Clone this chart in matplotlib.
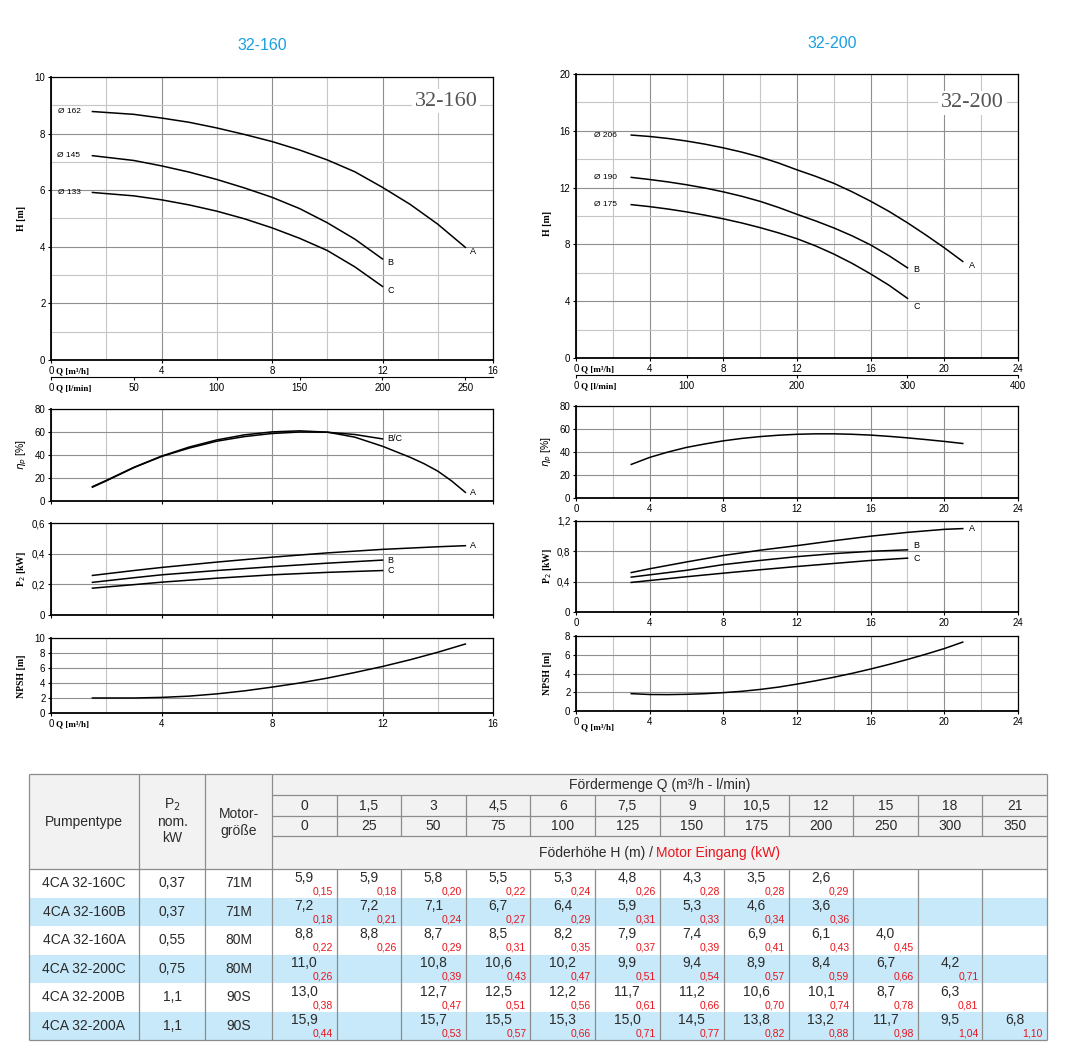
import matplotlib
matplotlib.use('Agg')
import matplotlib.pyplot as plt
from matplotlib.offsetbox import TextArea, HPacker, AnnotationBbox
from matplotlib.patches import Rectangle

plt.rcParams['font.family'] = ['Liberation Sans', 'DejaVu Sans']

# ---------------- table data ----------------
q_m3h = [0, 1.5, 3, 4.5, 6, 7.5, 9, 10.5, 12, 15, 18, 21]
q_lmin = [0, 25, 50, 75, 100, 125, 150, 175, 200, 250, 300, 350]

pump_types = ['4CA 32-160C', '4CA 32-160B', '4CA 32-160A',
              '4CA 32-200C', '4CA 32-200B', '4CA 32-200A']
p2_nom = ['0,37', '0,37', '0,55', '0,75', '1,1', '1,1']
motor_size = ['71M', '71M', '80M', '80M', '90S', '90S']

H_160C = [5.9, 5.9, 5.8, 5.5, 5.3, 4.8, 4.3, 3.5, 2.6, None, None, None]
P_160C = [0.15, 0.18, 0.20, 0.22, 0.24, 0.26, 0.28, 0.28, 0.29, None, None, None]
H_160B = [7.2, 7.2, 7.1, 6.7, 6.4, 5.9, 5.3, 4.6, 3.6, None, None, None]
P_160B = [0.18, 0.21, 0.24, 0.27, 0.29, 0.31, 0.33, 0.34, 0.36, None, None, None]
H_160A = [8.8, 8.8, 8.7, 8.5, 8.2, 7.9, 7.4, 6.9, 6.1, 4.0, None, None]
P_160A = [0.22, 0.26, 0.29, 0.31, 0.35, 0.37, 0.39, 0.41, 0.43, 0.45, None, None]
H_200C = [11.0, None, 10.8, 10.6, 10.2, 9.9, 9.4, 8.9, 8.4, 6.7, 4.2, None]
P_200C = [0.26, None, 0.39, 0.43, 0.47, 0.51, 0.54, 0.57, 0.59, 0.66, 0.71, None]
H_200B = [13.0, None, 12.7, 12.5, 12.2, 11.7, 11.2, 10.6, 10.1, 8.7, 6.3, None]
P_200B = [0.38, None, 0.47, 0.51, 0.56, 0.61, 0.66, 0.70, 0.74, 0.78, 0.81, None]
H_200A = [15.9, None, 15.7, 15.5, 15.3, 15.0, 14.5, 13.8, 13.2, 11.7, 9.5, 6.8]
P_200A = [0.44, None, 0.53, 0.57, 0.66, 0.71, 0.77, 0.82, 0.88, 0.98, 1.04, 1.10]

heads = [H_160C, H_160B, H_160A, H_200C, H_200B, H_200A]
powers = [P_160C, P_160B, P_160A, P_200C, P_200B, P_200A]

# ---------------- curve data ----------------
# 32-160
cq_160A = [1.5, 3, 4, 5, 6, 7, 8, 9, 10, 11, 12, 13, 14, 15]
ch_160A = [8.78, 8.68, 8.55, 8.40, 8.20, 7.97, 7.72, 7.42, 7.07, 6.65, 6.10, 5.50, 4.80, 3.98]
cq_160B = [1.5, 3, 4, 5, 6, 7, 8, 9, 10, 11, 12]
ch_160B = [7.22, 7.05, 6.86, 6.64, 6.38, 6.08, 5.75, 5.35, 4.85, 4.27, 3.57]
cq_160C = [1.5, 3, 4, 5, 6, 7, 8, 9, 10, 11, 12]
ch_160C = [5.92, 5.80, 5.66, 5.48, 5.26, 4.99, 4.67, 4.30, 3.87, 3.29, 2.60]

cp_160A = [0.258, 0.29, 0.31, 0.345, 0.377, 0.405, 0.428, 0.445, 0.452]
pq_160A = [1.5, 3, 4, 6, 8, 10, 12, 14, 15]
pq_160BC = [1.5, 3, 4, 6, 8, 10, 12]
cp_160B = [0.213, 0.243, 0.262, 0.29, 0.315, 0.338, 0.358]
cp_160C = [0.175, 0.198, 0.214, 0.24, 0.262, 0.278, 0.29]

eq_160A = [1.5, 2, 3, 4, 5, 6, 7, 8, 9, 10, 11, 12, 13, 13.5, 14, 14.5, 15]
eta_160A = [12.5, 17.9, 29.3, 39, 46.9, 53.1, 57.5, 60.1, 61, 59.9, 55.5, 47.6, 38, 32.5, 26, 17.5, 7.5]
eq_160BC = [1.5, 2, 3, 4, 5, 6, 7, 8, 9, 10, 11, 12]
eta_160BC = [12, 17.5, 29, 38.7, 46, 52, 56, 58.7, 60, 59.8, 57.8, 54]

nq_160 = [1.5, 3, 4, 5, 6, 7, 8, 9, 10, 11, 12, 13, 14, 15]
npsh_160 = [2.0, 2.0, 2.08, 2.25, 2.55, 2.95, 3.45, 4.0, 4.65, 5.4, 6.2, 7.1, 8.1, 9.2]

# 32-200
cq_200A = [3, 4, 5, 6, 7, 8, 9, 10, 11, 12, 13, 14, 15, 16, 17, 18, 19, 20, 21]
ch_200A = [15.7, 15.6, 15.46, 15.28, 15.06, 14.8, 14.5, 14.15, 13.73, 13.25,
           12.8, 12.3, 11.7, 11.04, 10.32, 9.52, 8.66, 7.76, 6.8]
cq_200BC = [3, 4, 5, 6, 7, 8, 9, 10, 11, 12, 13, 14, 15, 16, 17, 18]
ch_200B = [12.72, 12.57, 12.40, 12.20, 11.97, 11.70, 11.39, 11.03, 10.60, 10.12,
           9.66, 9.16, 8.60, 7.96, 7.20, 6.35]
ch_200C = [10.8, 10.66, 10.49, 10.29, 10.06, 9.8, 9.51, 9.18, 8.81, 8.4,
           7.9, 7.32, 6.66, 5.92, 5.12, 4.2]

pq_200A = [3, 4, 6, 8, 10, 12, 14, 16, 18, 20, 21]
cp_200A = [0.52, 0.57, 0.66, 0.745, 0.815, 0.875, 0.94, 1.0, 1.05, 1.09, 1.10]
pq_200BC = [3, 4, 6, 8, 10, 12, 14, 16, 18]
cp_200B = [0.46, 0.49, 0.55, 0.625, 0.68, 0.73, 0.77, 0.80, 0.82]
cp_200C = [0.39, 0.415, 0.465, 0.512, 0.557, 0.60, 0.64, 0.68, 0.71]

eq_200 = [3, 4, 5, 6, 7, 8, 9, 10, 11, 12, 13, 14, 15, 16, 17, 18, 19, 20, 21]
eta_200 = [29.2, 35.3, 40, 44, 47, 49.7, 51.8, 53.4, 54.6, 55.4, 55.8, 55.8, 55.4,
           54.7, 53.6, 52.3, 50.8, 49.2, 47.4]

nq_200 = [3, 4, 5, 6, 7, 8, 9, 10, 11, 12, 13, 14, 15, 16, 17, 18, 19, 20, 21]
npsh_200 = [1.85, 1.76, 1.75, 1.78, 1.85, 1.96, 2.1, 2.3, 2.55, 2.87, 3.22, 3.6,
            4.02, 4.48, 4.97, 5.5, 6.06, 6.66, 7.35]

dia_160 = ['Ø 162', 'Ø 145', 'Ø 133']
dia_200 = ['Ø 206', 'Ø 190', 'Ø 175']

# ---------------- figure ----------------
W, H = 1086, 1060
fig = plt.figure(figsize=(W / 100, H / 100), dpi=100)


def add_ax(x0, y0, x1, y1):
    return fig.add_axes([x0 / W, 1 - y1 / H, (x1 - x0) / W, (y1 - y0) / H])


def ftext(x, y, s, **kw):
    return fig.text(x / W, 1 - y / H, s, **kw)


def fmt1(v):
    return ('%.1f' % v).replace('.', ',')


def fmt2(v):
    return ('%.2f' % v).replace('.', ',')


def fmtg(v):
    return ('%g' % v).replace('.', ',')


def style(ax, xmax, xmajor, xminor, ymax, ymajor, yminor, ylabels, show_x):
    ax.set_xlim(0, xmax)
    ax.set_ylim(0, ymax)
    ax.set_xticks(xmajor)
    ax.set_xticks(xminor, minor=True)
    ax.set_yticks(ymajor)
    ax.set_yticks(yminor, minor=True)
    ax.set_yticklabels(ylabels)
    if show_x:
        ax.set_xticklabels([fmtg(v) for v in xmajor])
    else:
        ax.set_xticklabels([])
    ax.grid(which='major', color='#8f8f8f', lw=0.8)
    ax.grid(which='minor', color='#c6c6c6', lw=0.8)
    ax.tick_params(which='major', direction='out', length=2.5, width=0.8,
                   pad=1.5, labelsize=7, colors='black')
    ax.tick_params(which='minor', length=0)
    for s in ['left', 'bottom']:
        ax.spines[s].set_linewidth(1.3)
    for s in ['top', 'right']:
        ax.spines[s].set_linewidth(0.9)


def qlabel(ax, text, dy):
    ax.annotate(text, xy=(0, 0), xycoords='axes fraction', xytext=(5, dy),
                textcoords='offset pixels', ha='left', va='center',
                fontfamily='Liberation Serif', fontweight='bold', fontsize=6.5)


def end_label(ax, x, y, s, dx=5, dy=-4):
    ax.annotate(s, xy=(x, y), xytext=(dx, dy), textcoords='offset pixels',
                ha='left', va='center', fontsize=6.5)


def start_label(ax, x, y, s, dx):
    ax.annotate(s, xy=(x, y), xytext=(dx, 0), textcoords='offset pixels',
                ha='right', va='center', fontsize=6)


LW = 1.1
serif_lbl = dict(fontfamily='Liberation Serif', fontweight='bold', fontsize=7,
                 rotation=90, ha='center', va='center')

# ================= 32-160 =================
ftext(262, 45, '32-160', color='#1a9fe3', fontsize=11.5, ha='center', va='center')

ax = add_ax(51, 77, 493, 360)
style(ax, 16, [0, 4, 8, 12, 16], [2, 6, 10, 14], 10, [0, 2, 4, 6, 8, 10],
      [1, 3, 5, 7, 9], ['0', '2', '4', '6', '8', '10'], True)
for xs, ys, lab, end in zip([cq_160A, cq_160B, cq_160C], [ch_160A, ch_160B, ch_160C],
                            dia_160, ['A', 'B', 'C']):
    ax.plot(xs, ys, color='black', lw=LW)
    start_label(ax, xs[0], ys[0], lab, -12)
    end_label(ax, xs[-1], ys[-1], end)
ax.text(0.894, 0.915, '32-160', transform=ax.transAxes, fontfamily='Liberation Serif',
        fontsize=16, color='#555555', ha='center', va='center',
        bbox=dict(fc='white', ec='none', pad=2))
qlabel(ax, 'Q [m³/h]', -11)
sec = ax.secondary_xaxis(-17 / 283, functions=(lambda q: q * 1000 / 60, lambda l: l * 60 / 1000))
sec.set_xticks([0, 50, 100, 150, 200, 250])
sec.set_xticklabels(['0', '50', '100', '150', '200', '250'])
sec.tick_params(direction='out', length=2.5, width=0.8, pad=1.5, labelsize=7)
sec.spines['bottom'].set_linewidth(0.8)
qlabel(ax, 'Q [l/min]', -28)
ftext(22, 218, 'H [m]', **serif_lbl)

ax = add_ax(51, 409, 493, 501)
style(ax, 16, [0, 4, 8, 12, 16], [2, 6, 10, 14], 80, [0, 20, 40, 60, 80], [],
      ['0', '20', '40', '60', '80'], False)
ax.plot(eq_160A, eta_160A, color='black', lw=LW)
ax.plot(eq_160BC, eta_160BC, color='black', lw=LW)
end_label(ax, eq_160BC[-1], eta_160BC[-1], 'B/C', 5, 0)
end_label(ax, eq_160A[-1], eta_160A[-1], 'A', 5, 0)
ftext(22, 455, r'$\eta_p$ [%]', fontsize=7.5, rotation=90, ha='center', va='center')

ax = add_ax(51, 523, 493, 615)
style(ax, 16, [0, 4, 8, 12, 16], [2, 6, 10, 14], 0.6, [0, 0.2, 0.4, 0.6], [],
      ['0', '0,2', '0,4', '0,6'], False)
for xs, ys, end in zip([pq_160A, pq_160BC, pq_160BC], [cp_160A, cp_160B, cp_160C], ['A', 'B', 'C']):
    ax.plot(xs, ys, color='black', lw=LW)
    end_label(ax, xs[-1], ys[-1], end, 5, 0)
ftext(22, 569, 'P$_2$ [kW]', **serif_lbl)

ax = add_ax(51, 638, 493, 713)
style(ax, 16, [0, 4, 8, 12, 16], [2, 6, 10, 14], 10, [0, 2, 4, 6, 8, 10], [],
      ['0', '2', '4', '6', '8', '10'], True)
ax.plot(nq_160, npsh_160, color='black', lw=LW)
qlabel(ax, 'Q [m³/h]', -11)
ftext(22, 676, 'NPSH [m]', **serif_lbl)

# ================= 32-200 =================
ftext(832, 44, '32-200', color='#1a9fe3', fontsize=11.5, ha='center', va='center')

ax = add_ax(576, 74, 1018, 358)
style(ax, 24, [0, 4, 8, 12, 16, 20, 24], [2, 6, 10, 14, 18, 22], 20,
      [0, 4, 8, 12, 16, 20], [2, 6, 10, 14, 18], ['0', '4', '8', '12', '16', '20'], True)
for xs, ys, lab, end, dy in zip([cq_200A, cq_200BC, cq_200BC], [ch_200A, ch_200B, ch_200C],
                                dia_200, ['A', 'B', 'C'], [-4, -2, -8]):
    ax.plot(xs, ys, color='black', lw=LW)
    start_label(ax, xs[0], ys[0], lab, -14)
    end_label(ax, xs[-1], ys[-1], end, 6, dy)
ax.text(0.897, 0.898, '32-200', transform=ax.transAxes, fontfamily='Liberation Serif',
        fontsize=16, color='#555555', ha='center', va='center',
        bbox=dict(fc='white', ec='none', pad=2))
qlabel(ax, 'Q [m³/h]', -11)
sec = ax.secondary_xaxis(-17 / 284, functions=(lambda q: q * 1000 / 60, lambda l: l * 60 / 1000))
sec.set_xticks([0, 100, 200, 300, 400])
sec.set_xticklabels(['0', '100', '200', '300', '400'])
sec.tick_params(direction='out', length=2.5, width=0.8, pad=1.5, labelsize=7)
sec.spines['bottom'].set_linewidth(0.8)
qlabel(ax, 'Q [l/min]', -28)
ftext(547, 223, 'H [m]', **serif_lbl)

ax = add_ax(576, 406, 1018, 498)
style(ax, 24, [0, 4, 8, 12, 16, 20, 24], [2, 6, 10, 14, 18, 22], 80,
      [0, 20, 40, 60, 80], [], ['0', '20', '40', '60', '80'], True)
ax.plot(eq_200, eta_200, color='black', lw=LW)
ftext(547, 452, r'$\eta_p$ [%]', fontsize=7.5, rotation=90, ha='center', va='center')

ax = add_ax(576, 521, 1018, 612)
style(ax, 24, [0, 4, 8, 12, 16, 20, 24], [2, 6, 10, 14, 18, 22], 1.2,
      [0, 0.4, 0.8, 1.2], [], ['0', '0,4', '0,8', '1,2'], True)
for xs, ys, end, dy in zip([pq_200A, pq_200BC, pq_200BC], [cp_200A, cp_200B, cp_200C],
                           ['A', 'B', 'C'], [0, 4, 0]):
    ax.plot(xs, ys, color='black', lw=LW)
    end_label(ax, xs[-1], ys[-1], end, 6, dy)
ftext(547, 566, 'P$_2$ [kW]', **serif_lbl)

ax = add_ax(576, 636, 1018, 711)
style(ax, 24, [0, 4, 8, 12, 16, 20, 24], [2, 6, 10, 14, 18, 22], 8,
      [0, 2, 4, 6, 8], [], ['0', '2', '4', '6', '8'], True)
ax.plot(nq_200, npsh_200, color='black', lw=LW)
qlabel(ax, 'Q [m³/h]', -16)
ftext(547, 673, 'NPSH [m]', **serif_lbl)

# ================= table =================
tax = fig.add_axes([0, 0, 1, 1], zorder=-1)
tax.set_xlim(0, W)
tax.set_ylim(H, 0)
tax.axis('off')

LINE = '#8c8c8c'
TXT = '#2b2b2b'
RED = '#e8141c'
BLUE = '#c8e9fa'
GREY = '#f2f2f3'

x_left, x_c1, x_c2, x_q0, x_right = 29, 139, 205, 272, 1047
y_top, y_r1, y_r2, y_r3, y_hdr = 774, 795, 816, 836, 869
y_bot = 1040
n_q = len(q_m3h)
qw = (x_right - x_q0) / n_q
rh = (y_bot - y_hdr) / len(pump_types)

tax.add_patch(Rectangle((x_left, y_top), x_right - x_left, y_hdr - y_top, fc=GREY, ec='none'))
for r in range(len(pump_types)):
    tax.add_patch(Rectangle((x_left, y_hdr + r * rh), x_right - x_left, rh,
                            fc=(BLUE if r % 2 else 'white'), ec='none'))


def hline(y, x0, x1):
    tax.plot([x0, x1], [y, y], color=LINE, lw=0.9, solid_capstyle='butt')


def vline(x, y0, y1):
    tax.plot([x, x], [y0, y1], color=LINE, lw=0.9, solid_capstyle='butt')


hline(y_top, x_left, x_right)
hline(y_bot, x_left, x_right)
hline(y_hdr, x_left, x_right)
for y in (y_r1, y_r2, y_r3):
    hline(y, x_q0, x_right)
for x in (x_left, x_c1, x_c2, x_q0, x_right):
    vline(x, y_top, y_bot)
for i in range(1, n_q):
    x = x_q0 + i * qw
    vline(x, y_r1, y_r3)
    vline(x, y_hdr, y_bot)

tax.text((x_left + x_c1) / 2, 822, 'Pumpentype', ha='center', va='center', fontsize=10, color=TXT)
tax.text((x_c1 + x_c2) / 2, 805, 'P$_2$', ha='center', va='center', fontsize=10, color=TXT)
tax.text((x_c1 + x_c2) / 2, 822, 'nom.', ha='center', va='center', fontsize=10, color=TXT)
tax.text((x_c1 + x_c2) / 2, 838, 'kW', ha='center', va='center', fontsize=10, color=TXT)
tax.text((x_c2 + x_q0) / 2, 814, 'Motor-', ha='center', va='center', fontsize=10, color=TXT)
tax.text((x_c2 + x_q0) / 2, 831, 'größe', ha='center', va='center', fontsize=10, color=TXT)
tax.text((x_q0 + x_right) / 2, (y_top + y_r1) / 2, 'Fördermenge Q (m³/h - l/min)',
         ha='center', va='center', fontsize=10, color=TXT)
for i in range(n_q):
    cx = x_q0 + (i + 0.5) * qw
    tax.text(cx, (y_r1 + y_r2) / 2 + 0.5, fmtg(q_m3h[i]), ha='center', va='center', fontsize=10, color=TXT)
    tax.text(cx, (y_r2 + y_r3) / 2 + 0.5, fmtg(q_lmin[i]), ha='center', va='center', fontsize=10, color=TXT)

pack = HPacker(children=[TextArea('Föderhöhe H (m) / ', textprops=dict(fontsize=10, color=TXT)),
                         TextArea('Motor Eingang (kW)', textprops=dict(fontsize=10, color=RED))],
               align='baseline', pad=0, sep=0)
tax.add_artist(AnnotationBbox(pack, ((x_q0 + x_right) / 2, (y_r3 + y_hdr) / 2),
                              xycoords='data', frameon=False, box_alignment=(0.5, 0.5)))

for r in range(len(pump_types)):
    top = y_hdr + r * rh
    cy = top + rh / 2
    tax.text((x_left + x_c1) / 2, cy, pump_types[r], ha='center', va='center', fontsize=10, color=TXT)
    tax.text((x_c1 + x_c2) / 2, cy, p2_nom[r], ha='center', va='center', fontsize=10, color=TXT)
    tax.text((x_c2 + x_q0) / 2, cy, motor_size[r], ha='center', va='center', fontsize=10, color=TXT)
    for i in range(n_q):
        hv = heads[r][i]
        pv = powers[r][i]
        cx = x_q0 + (i + 0.5) * qw
        if hv is not None:
            tax.text(cx, top + 8.5, fmt1(hv), ha='center', va='center', fontsize=10, color=TXT)
        if pv is not None:
            tax.text(x_q0 + (i + 1) * qw - 4, top + 22, fmt2(pv), ha='right', va='center',
                     fontsize=7.5, color=RED)

fig.savefig('out.png', dpi=100)
